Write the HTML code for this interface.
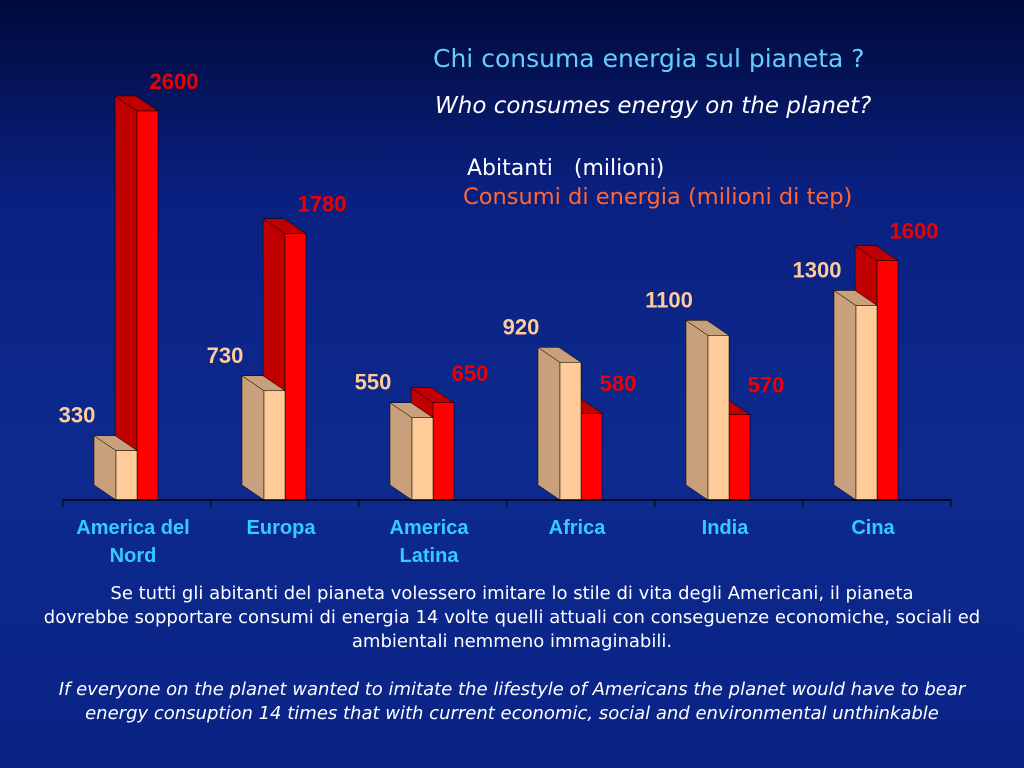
<!DOCTYPE html>
<html><head><meta charset="utf-8"><style>
body{margin:0;width:1024px;height:768px;overflow:hidden;background:linear-gradient(180deg,#000a3a 0%,#0a2080 25%,#0d2a8f 60%,#0a2385 100%);font-family:"Liberation Sans",sans-serif;position:relative}
.t{position:absolute;white-space:nowrap}
</style></head><body>
<div class="t" style="left:433px;top:44px;font-size:25px;color:#66ccff;font-family:'DejaVu Sans',sans-serif">Chi consuma energia sul pianeta ?</div>
<div class="t" style="left:435px;top:93px;font-size:23px;color:#fff;font-style:italic;font-family:'DejaVu Sans',sans-serif">Who consumes energy on the planet?</div>
<div class="t" style="left:467px;top:156px;font-size:22px;color:#fff;font-family:'DejaVu Sans',sans-serif">Abitanti &nbsp;&nbsp;(milioni)</div>
<div class="t" style="left:463px;top:184px;font-size:22.5px;color:#ff6633;font-family:'DejaVu Sans',sans-serif">Consumi di energia (milioni di tep)</div>
<svg id="c" width="1024" height="580" style="position:absolute;left:0;top:0"></svg>
<div class="t" style="left:0;width:1024px;top:582px;text-align:center;white-space:normal;font-size:18px;line-height:24px;color:#fff;font-family:'DejaVu Sans',sans-serif">Se tutti gli abitanti del pianeta volessero imitare lo stile di vita degli Americani, il pianeta<br>dovrebbe sopportare consumi di energia 14 volte quelli attuali con conseguenze economiche, sociali ed<br>ambientali nemmeno immaginabili.</div>
<div class="t" style="left:0;width:1024px;top:678px;text-align:center;white-space:normal;font-size:18px;line-height:24px;color:#fff;font-style:italic;font-family:'DejaVu Sans',sans-serif">If everyone on the planet wanted to imitate the lifestyle of Americans the planet would have to bear<br>energy consuption 14 times that with current economic, social and environmental unthinkable</div>
<script>
const categories=[["America del","Nord"],["Europa"],["America","Latina"],["Africa"],["India"],["Cina"]];
const population=[330,730,550,920,1100,1300];
const energy=[2600,1780,650,580,570,1600];
const NS="http://www.w3.org/2000/svg",svg=document.getElementById('c');
const x0=63,step=148,base=500,k=389/2600,bw=21,dx=22,dy=15;
const cx=i=>x0+step/2+i*step, y=v=>base-v*k;
function mk(t,a){const e=document.createElementNS(NS,t);for(const n in a)e.setAttribute(n,a[n]);svg.appendChild(e);return e;}
function bar(xl,v,front,side,nm){const t=y(v);
 const s=mk('polygon',{points:`${xl},${t} ${xl-dx},${t-dy} ${xl-dx},${base-dy} ${xl},${base}`,fill:side,stroke:'#000','stroke-width':0.5});
 
 
 const tp=mk('polygon',{points:`${xl},${t} ${xl-dx},${t-dy} ${xl-dx+bw},${t-dy} ${xl+bw},${t}`,fill:side,stroke:'#000','stroke-width':0.5});
 
 
 const f=mk('rect',{x:xl,y:t,width:bw,height:base-t,fill:front,stroke:'#000','stroke-width':0.5});
 
 }
function txt(x,yy,s,col,nm,sz){const e=mk('text',{x:x,y:yy,'text-anchor':'middle',fill:col,'font-size':sz||22,'font-weight':'bold','font-family':'"Liberation Sans Narrow","Liberation Sans",sans-serif'});e.textContent=s;
 
 return e;}
categories.forEach((c,i)=>{const m=cx(i);
 bar(m,energy[i],'#ff0000','#c00000','bar-energy-'+i);
 bar(m-bw,population[i],'#ffcc99','#c8a07c','bar-population-'+i);
 txt(m-60,y(population[i])-28,population[i],'#ffcc99','label-population-'+i);
 txt(m+37,y(energy[i])-22,energy[i],'#ee0000','label-energy-'+i);
 c.forEach((l,j)=>txt(m-4,534+j*28,l,'#33ccff','category-label-'+i,20));
});
const ax=mk('line',{x1:x0,y1:base,x2:x0+6*step,y2:base,stroke:'#000','stroke-width':1.5});


for(let i=0;i<=6;i++){const tk=mk('line',{x1:x0+i*step,y1:base,x2:x0+i*step,y2:base+7,stroke:'#000','stroke-width':1});
 
 }
</script>
</body></html>
